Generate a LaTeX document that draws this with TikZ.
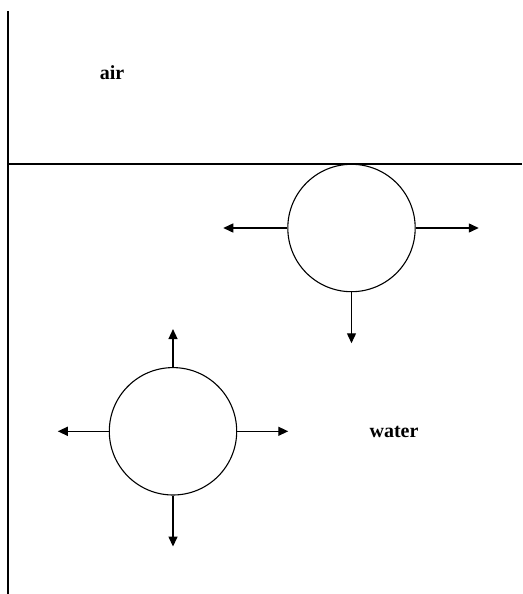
\documentclass[tikz,border=0pt]{standalone}
\usepackage{fontspec}
\setmainfont{Liberation Serif}
\usetikzlibrary{positioning, arrows.meta}

\begin{document}
\begin{tikzpicture}[x=1pt, y=-1pt, >={Triangle[length=10pt,width=9pt]},
    line width=1.4pt,
    drop/.style={draw, circle, line width=1.1pt, minimum size=127.4pt, inner sep=0pt},
    label/.style={font=\fontsize{20}{24}\selectfont\bfseries}]
    \useasboundingbox (0,0) rectangle (522,594);
    % boundaries
    \coordinate (top) at (8,11);
    \coordinate (bottom) at (8,594);
    \coordinate (surfl) at (8,164);
    \coordinate (surfr) at (522,164);
    \draw (top) -- (bottom);
    \draw (surfl) -- (surfr);

    \node[label] (air) at (112,73) {air};
    \node[label] (water) at (394,432) {water};

    % bubble at the surface
    \node[drop] (b1) at (351.5,228) {};
    \coordinate[left=64pt of b1.west] (b1l);
    \coordinate[right=63pt of b1.east] (b1r);
    \coordinate[below=51pt of b1.south] (b1d);
    \draw[->] (b1.west)--(b1l);
    \draw[->] (b1.east)--(b1r);
    \draw[->] (b1.south)--(b1d);

    % bubble in the water
    \node[drop] (b2) at (173,431.3) {};
    \coordinate[above=38pt of b2.north] (b2u);
    \coordinate[left=51pt of b2.west] (b2l);
    \coordinate[right=51pt of b2.east] (b2r);
    \coordinate[below=51pt of b2.south] (b2d);
    \draw[->] (b2.north)--(b2u);
    \draw[->] (b2.west)--(b2l);
    \draw[->] (b2.east)--(b2r);
    \draw[->] (b2.south)--(b2d);
  \end{tikzpicture}
\end{document}
